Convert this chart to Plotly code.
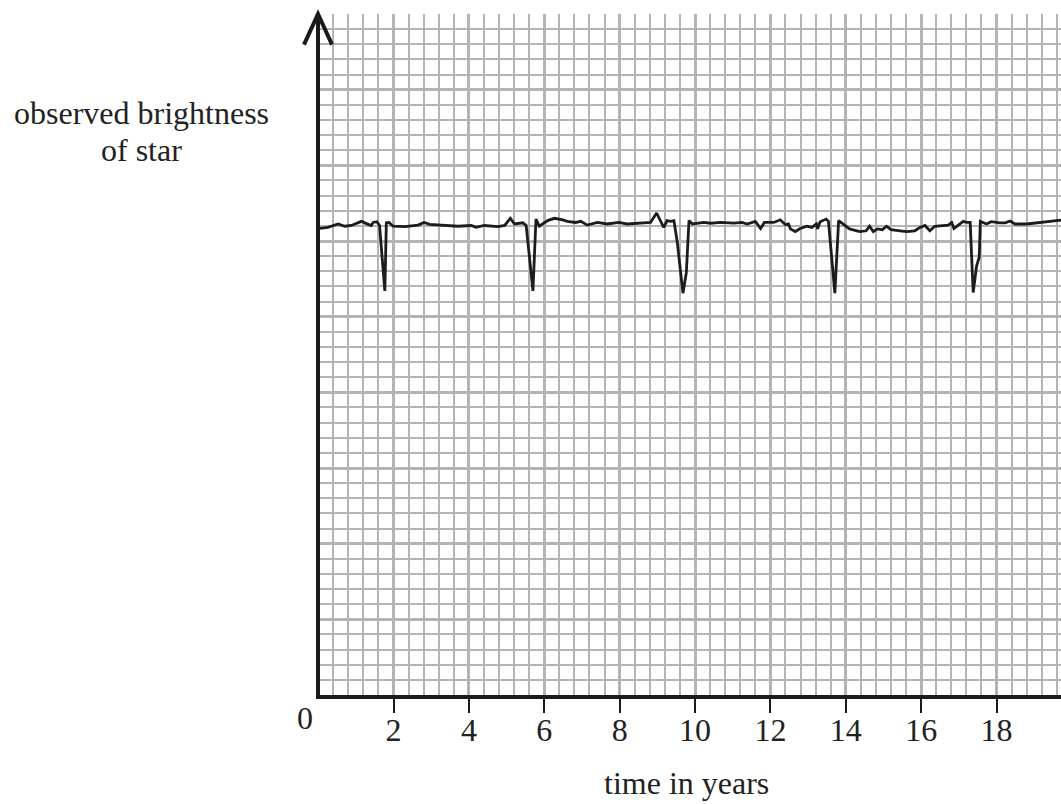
import plotly.graph_objects as go

# time in years
time = [0.00, 0.07, 0.26, 0.53, 0.71, 0.88, 1.15, 1.28, 1.41, 1.46, 1.56, 1.63, 1.77, 1.81, 1.88, 1.99,
        2.30, 2.65, 2.81, 2.96, 3.36, 3.71, 4.06, 4.19, 4.41, 4.77, 4.95, 5.10, 5.21, 5.43, 5.52, 5.70,
        5.78, 5.87, 6.09, 6.27, 6.49, 6.61, 6.83, 6.97, 7.14, 7.41, 7.67, 7.98, 8.20, 8.56, 8.82, 8.98,
        9.09, 9.17, 9.26, 9.35, 9.44, 9.53, 9.68, 9.77, 9.84, 9.93, 10.23, 10.41, 10.68, 11.03, 11.25,
        11.38, 11.60, 11.74, 11.84, 12.09, 12.26, 12.40, 12.48, 12.53, 12.66, 12.79, 12.97, 13.10, 13.22,
        13.25, 13.32, 13.41, 13.48, 13.54, 13.60, 13.71, 13.81, 13.93, 14.10, 14.37, 14.54, 14.63, 14.73,
        14.84, 14.97, 15.08, 15.20, 15.44, 15.62, 15.83, 15.97, 16.10, 16.23, 16.36, 16.55, 16.72, 16.81,
        16.87, 17.03, 17.12, 17.21, 17.30, 17.38, 17.47, 17.54, 17.57, 17.73, 17.86, 18.09, 18.23, 18.36,
        18.49, 18.80, 19.15, 19.71]
# observed brightness (grid units)
brightness = [12.33, 12.34, 12.36, 12.45, 12.39, 12.41, 12.52, 12.46, 12.41, 12.49, 12.51, 12.41, 10.68, 12.48, 12.49, 12.39,
              12.38, 12.42, 12.49, 12.44, 12.42, 12.39, 12.41, 12.36, 12.41, 12.38, 12.41, 12.60, 12.45, 12.48, 12.41, 10.68,
              12.58, 12.39, 12.54, 12.60, 12.56, 12.52, 12.49, 12.52, 12.42, 12.49, 12.45, 12.49, 12.45, 12.48, 12.49, 12.74,
              12.54, 12.36, 12.54, 12.52, 12.54, 11.96, 10.62, 11.17, 12.54, 12.45, 12.49, 12.47, 12.49, 12.47, 12.49,
              12.45, 12.52, 12.33, 12.49, 12.49, 12.56, 12.43, 12.45, 12.32, 12.25, 12.33, 12.39, 12.36, 12.45,
              12.32, 12.51, 12.54, 12.58, 12.52, 11.88, 10.62, 12.54, 12.45, 12.32, 12.25, 12.27, 12.39, 12.25,
              12.32, 12.30, 12.39, 12.30, 12.27, 12.25, 12.27, 12.36, 12.41, 12.27, 12.39, 12.41, 12.42, 12.49,
              12.33, 12.45, 12.52, 12.49, 12.49, 10.64, 11.34, 11.57, 12.52, 12.45, 12.51, 12.48, 12.48, 12.53,
              12.45, 12.45, 12.49, 12.55]

x_tick_vals = [2, 4, 6, 8, 10, 12, 14, 16, 18]
x_tick_text = ["2", "4", "6", "8", "10", "12", "14", "16", "18"]

FONT = "Liberation Serif, Times New Roman, serif"
GRID = "#b4b4b4"

fig = go.Figure()
fig.add_trace(go.Scatter(x=time, y=brightness, mode="lines",
                         line=dict(color="#1c1c1c", width=2.8), hoverinfo="skip"))

fig.update_layout(
    width=1061, height=804,
    margin=dict(l=320, r=0, t=14, b=109),
    paper_bgcolor="white", plot_bgcolor="white",
    showlegend=False,
    font=dict(family=FONT, size=32, color="#222222"),
)

fig.update_xaxes(
    range=[0.05, 19.71], tickmode="array", tickvals=x_tick_vals, ticktext=x_tick_text,
    showgrid=True, gridcolor=GRID, gridwidth=3,
    minor=dict(tickmode="linear", tick0=0, dtick=0.4, showgrid=True, gridcolor=GRID, gridwidth=1.6),
    zeroline=False, showline=True, linecolor="#1a1a1a", linewidth=4,
    ticks="outside", ticklen=14, tickwidth=2, tickcolor="#1a1a1a",
    ticklabelstandoff=-10,
    tickfont=dict(family=FONT, size=32, color="#222222"),
)
fig.update_yaxes(
    range=[0, 18], tickmode="linear", tick0=0, dtick=2, showticklabels=False,
    showgrid=True, gridcolor=GRID, gridwidth=3,
    minor=dict(tickmode="linear", tick0=0, dtick=0.4, showgrid=True, gridcolor=GRID, gridwidth=1.6),
    zeroline=False, showline=True, linecolor="#1a1a1a", linewidth=4, ticks="",
)

# arrow head on the vertical axis
fig.add_shape(type="path", xref="paper", yref="paper",
              path="M -0.0216 0.955 L -0.0027 1.0 L 0.0162 0.955",
              line=dict(color="#1a1a1a", width=4))

fig.add_annotation(text="0", xref="paper", yref="paper", x=-0.02, y=-0.034,
                   showarrow=False, xanchor="center", yanchor="middle",
                   font=dict(family=FONT, size=32, color="#222222"))
fig.add_annotation(text="time in years", xref="paper", yref="paper", x=0.495, y=-0.129,
                   showarrow=False, xanchor="center", yanchor="middle",
                   font=dict(family=FONT, size=32, color="#222222"))
fig.add_annotation(text="observed brightness", xref="paper", yref="paper", x=-0.2415, y=0.855,
                   showarrow=False, xanchor="center", yanchor="middle",
                   font=dict(family=FONT, size=32, color="#222222"))
fig.add_annotation(text="of star", xref="paper", yref="paper", x=-0.2415, y=0.800,
                   showarrow=False, xanchor="center", yanchor="middle",
                   font=dict(family=FONT, size=32, color="#222222"))

fig.write_html("out.html", config={"displayModeBar": False},
               post_script="document.body.style.margin='0';document.body.style.overflow='hidden';")
